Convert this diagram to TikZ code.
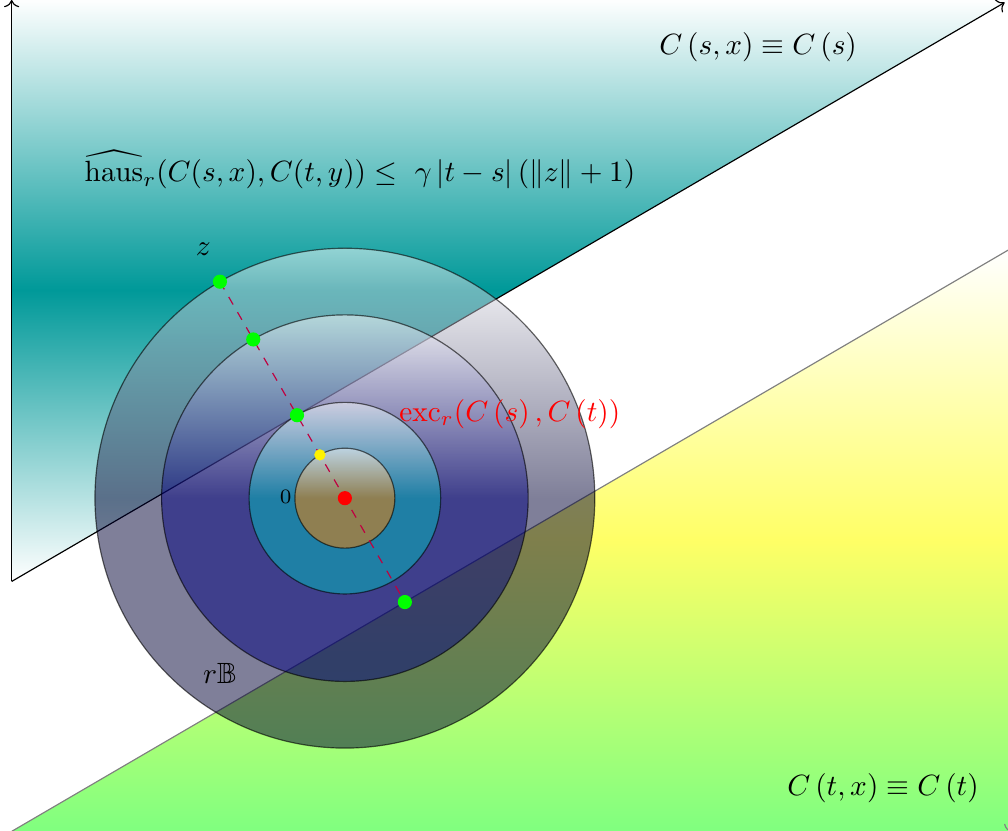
\documentclass[tikz,border=0pt]{standalone}
\usepackage{amsmath}
\usepackage{amssymb}
\usepackage{xcolor}
\usepackage{tikz}
\usetikzlibrary{arrows.meta}

\tikzset{
  rball/.style={top color=white, bottom color=#1, middle color=#1,
    fill opacity=0.5, draw=black, draw opacity=0.6},
  dot/.style={fill=#1}
}

\begin{document}
\begin{tikzpicture}
\useasboundingbox (-4.14,-3.99) rectangle (7.96,5.98);
% the two sets C(s) and C(t)
\shade[top color=white, bottom color=white, middle color=cyan!60!black] (-4,6) -- (-4,-1) -- (8,6) -- cycle;
\shade[top color=white, bottom color=green!50, middle color=yellow!60] (-4,-4) -- (8,3) -- (8,-4) -- cycle;
\draw[->] (-4,-1) -- (-4,5.98);
\draw[->] (-4,-1) -- (7.92,5.95);
\draw[gray] (-4,-4) -- (8,3);
\draw[gray,->] (-4,-4) -- (8,-4);

% balls round 0
\coordinate (o) at (0,0);
\shadedraw[rball=blue!20!black] (o) circle (3);
\shadedraw[rball=blue!50!black] (o) circle (2.2);
\shadedraw[rball=cyan!75!black] (o) circle (1.15);
\shadedraw[rball=orange] (o) circle (0.6);

\coordinate (z) at (120:3);
\coordinate (z1) at (120:2.2);
\coordinate (z2) at (120:1.15);
\coordinate (y0) at (120:0.6);
\coordinate (w) at (-60:1.44);
\draw[purple, dashed] (z) -- (w);
\fill[dot=green] (z) circle (0.085);
\fill[dot=green] (z1) circle (0.085);
\fill[dot=green] (z2) circle (0.085);
\fill[dot=green] (w) circle (0.085);
\fill[dot=yellow] (y0) circle (0.068);
\fill[dot=red] (o) circle (0.085);

% labels
\node (zlab) at (-1.70,2.99) {$z$};
\node[font=\scriptsize] (olab) at (-0.71,0.01) {$0$};
\node (rb) at (-1.50,-2.10) {$r\mathbb{B}$};
\node[red] (exc) at (1.98,1.01) {$\operatorname{exc}_r(C\left(s\right),C\left(t\right))$};
\node (haus) at (0.18,3.94) {$\widehat{\mathrm{haus}}_r(C(s,x),C(t,y))\leq\ \gamma\left|t-s\right|\left(\left\|z\right\|+1\right)$};
\node (cs) at (4.96,5.41) {$C\left(s,x\right)\equiv C\left(s\right)$};
\node (ct) at (6.46,-3.48) {$C\left(t,x\right)\equiv C\left(t\right)$};
\end{tikzpicture}
\end{document}
